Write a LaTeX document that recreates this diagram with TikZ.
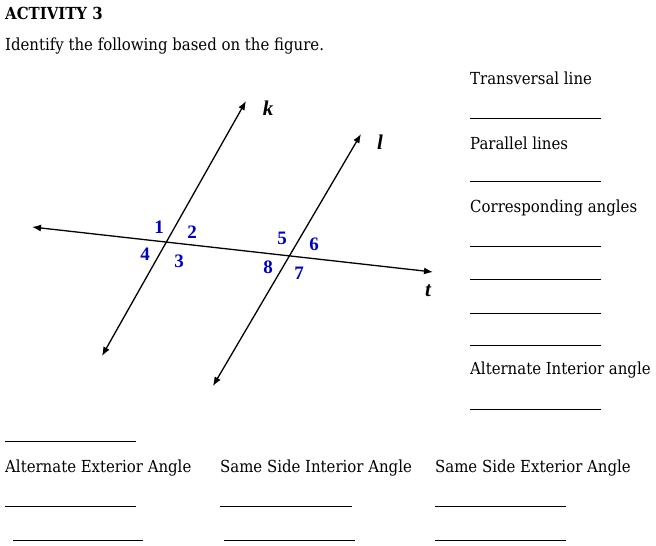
\documentclass[tikz,border=0pt]{standalone}
\usepackage{fontspec}
\setmainfont{DejaVu Serif Condensed}
\newfontfamily\lblfont{Liberation Serif}
\usetikzlibrary{arrows.meta}
\begin{document}
\begin{tikzpicture}[x=1pt,y=-1pt,
  txt/.style={anchor=west,inner sep=0pt,font=\fontsize{16.6}{19}\selectfont},
  blank/.style={line width=0.6pt},
  ln/.style={line width=1.3pt,{Latex[length=9pt,width=7pt]}-{Latex[length=9pt,width=7pt]}},
  num/.style={text=blue!75!black,font=\lblfont\bfseries\fontsize{19}{21}\selectfont,inner sep=0pt},
  let/.style={font=\lblfont\bfseries\itshape\fontsize{21}{23}\selectfont,inner sep=0pt}]
\useasboundingbox (0,0) rectangle (656,546);
\node[txt,font=\bfseries\fontsize{16.6}{19}\selectfont] (h) at (5,13) {ACTIVITY 3};
\node[txt] (i) at (5,46) {Identify the following based on the figure.};
% figure
\coordinate (k1) at (102,356); \coordinate (k2) at (246,101);
\coordinate (l1) at (213,386); \coordinate (l2) at (361,134);
\coordinate (t1) at (32,227); \coordinate (t2) at (433,272);
\draw[ln] (k1) -- (k2);
\draw[ln] (l1) -- (l2);
\draw[ln] (t1) -- (t2);
\node[let] (k) at (268,108) {k};
\node[let] (l) at (380,142) {l};
\node[let] (t) at (428,291) {t};
\node[num] (n1) at (159,227) {1};
\node[num] (n2) at (192,232) {2};
\node[num] (n4) at (145,254) {4};
\node[num] (n3) at (179,261) {3};
\node[num] (n5) at (282,238) {5};
\node[num] (n6) at (314,244) {6};
\node[num] (n8) at (268,267) {8};
\node[num] (n7) at (299,273) {7};
% right column
\node[txt] (a) at (470,78) {Transversal line};
\draw[blank] (470,118) -- (601,118);
\node[txt] (b) at (470,143) {Parallel lines};
\draw[blank] (470,181) -- (601,181);
\node[txt] (c) at (470,208) {Corresponding angles};
\foreach \y in {246,279,313,345} \draw[blank] (470,\y) -- (601,\y);
\node[txt] (d) at (470,370) {Alternate Interior angle};
\draw[blank] (470,409) -- (601,409);
\draw[blank] (5,441) -- (136,441);
% bottom
\node[txt] (e) at (5,468) {Alternate Exterior Angle};
\node[txt] (f) at (220,468) {Same Side Interior Angle};
\node[txt] (g) at (435,468) {Same Side Exterior Angle};
\draw[blank] (5,506) -- (136,506);
\draw[blank] (220,506) -- (352,506);
\draw[blank] (435,506) -- (566,506);
\draw[blank] (13,540) -- (143,540);
\draw[blank] (224,540) -- (355,540);
\draw[blank] (435,540) -- (566,540);
\end{tikzpicture}
\end{document}
